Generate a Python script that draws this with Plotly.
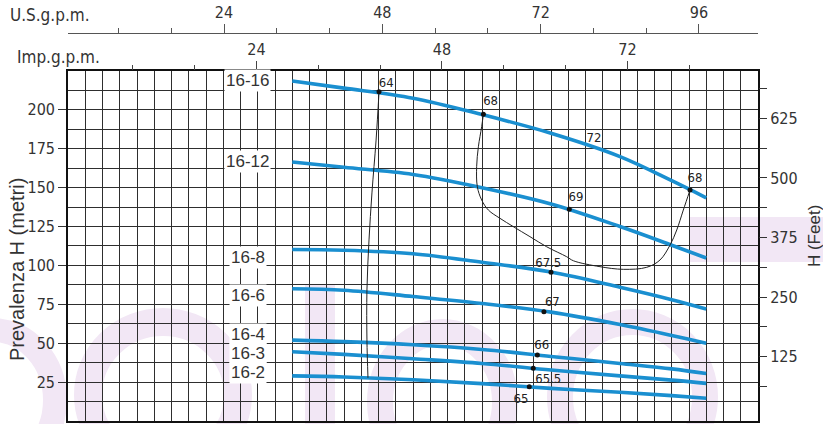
import plotly.graph_objects as go

# ---------------- data ----------------
flow_lpm = [130, 160, 200, 240, 280, 320, 350, 370]
curve_names = ["16-16", "16-12", "16-8", "16-6", "16-4", "16-3", "16-2"]
head_16_16 = [218.6, 214.0, 207.5, 197.0, 185.0, 170.0, 154.5, 143.5]
head_16_12 = [166.5, 163.1, 158.5, 150.0, 139.5, 125.0, 113.0, 104.8]
head_16_8 = [110.2, 109.8, 107.5, 102.0, 95.8, 86.0, 78.0, 72.0]
head_16_6 = [85.0, 84.1, 80.0, 75.5, 70.0, 62.0, 55.0, 50.0]
head_16_4 = [52.0, 51.0, 49.0, 46.0, 41.5, 37.0, 33.5, 30.5]
head_16_3 = [44.5, 42.8, 40.0, 37.0, 32.8, 29.0, 26.3, 24.2]
head_16_2 = [29.0, 28.3, 26.5, 24.0, 21.0, 18.5, 16.3, 14.6]
heads = [head_16_16, head_16_12, head_16_8, head_16_6, head_16_4, head_16_3, head_16_2]

label_flow = 104.3
label_head = [219.2, 166.5, 105.4, 80.4, 55.3, 43.7, 30.9]

# iso-efficiency lines
iso64_q = [180.3, 178.6, 176.2, 174.5, 173.3, 173.3, 173.9]
iso64_h = [211.5, 180.6, 146.6, 116.4, 84.2, 52.1, 27.8]
iso68_q = [240.8, 239.8, 237.9, 236.9, 237.3, 239.8, 243.7, 250.4, 258.2, 267.8, 277.5,
           289.1, 293.0, 308.4, 321.9, 335.5, 343.2, 349.0, 352.9, 356.7, 360.6]
iso68_h = [197.2, 189.2, 176.3, 163.5, 150.6, 142.1, 135.6, 130.3, 124.9, 118.5, 112.0,
           105.6, 103.0, 99.2, 97.5, 98.8, 103.5, 113.1, 122.8, 135.6, 148.5]

dot_q = [180.3, 240.8, 360.6, 290.6, 280.0, 275.9, 272.1, 269.7, 267.4]
dot_h = [211.7, 197.2, 148.5, 136.1, 95.6, 70.3, 42.4, 33.9, 22.0]
eff_labels = ["64", "68", "72", "68", "69", "67.5", "67", "66", "65.5", "65"]
eff_label_q = [184.5, 245.0, 304.9, 363.5, 294.5, 278.4, 280.8, 274.6, 278.4, 262.6]
eff_label_h = [217.0, 205.3, 181.7, 156.0, 143.2, 101.4, 75.7, 48.2, 26.8, 13.5]

imp_ticks = [24, 48, 72]
imp_minor = [8, 16, 32, 40, 56, 64, 80]
us_ticks = [24, 48, 72, 96]
us_minor = [8, 16, 32, 40, 56, 64, 80, 88]
m_ticks = [25, 50, 75, 100, 125, 150, 175, 200]
ft_ticks = [125, 250, 375, 500, 625]
ft_minor = [62.5, 187.5, 312.5, 437.5, 562.5, 687.5]

# ---------------- style ----------------
COND = "DejaVu Sans Condensed, Liberation Sans Narrow, DejaVu Sans, sans-serif"
SANS = "Liberation Sans, Arial, sans-serif"
TXT = "#333333"
GRID = "#2e2e2e"
BLUE = "#1a8fd0"
WATER = "#f2e7f5"

fig = go.Figure()

for name, h in zip(curve_names, heads):
    fig.add_trace(go.Scatter(x=flow_lpm, y=h, mode="lines", name=name,
                             line=dict(color=BLUE, width=3.6, shape="spline"),
                             showlegend=False, hoverinfo="skip"))

fig.add_trace(go.Scatter(x=iso64_q, y=iso64_h, mode="lines",
                         line=dict(color="#222", width=1, shape="spline"),
                         showlegend=False, hoverinfo="skip"))
fig.add_trace(go.Scatter(x=iso68_q, y=iso68_h, mode="lines",
                         line=dict(color="#222", width=1, shape="spline"),
                         showlegend=False, hoverinfo="skip"))
fig.add_trace(go.Scatter(x=dot_q, y=dot_h, mode="markers",
                         marker=dict(color="#111", size=5),
                         showlegend=False, hoverinfo="skip"))
fig.add_trace(go.Scatter(x=eff_label_q, y=eff_label_h, mode="text", text=eff_labels,
                         textfont=dict(family=COND, size=13, color="#222"),
                         showlegend=False, hoverinfo="skip"))

# curve labels with white background
for name, h in zip(curve_names, label_head):
    fig.add_annotation(x=label_flow, y=h, xref="x", yref="y", text=name, showarrow=False,
                       font=dict(family=SANS, size=17, color=TXT), bgcolor="white",
                       borderpad=1)

# dummy traces to activate extra axes
fig.add_trace(go.Scatter(x=[], y=[], xaxis="x2", yaxis="y", showlegend=False))
fig.add_trace(go.Scatter(x=[], y=[], xaxis="x3", yaxis="y", showlegend=False))
fig.add_trace(go.Scatter(x=[], y=[], xaxis="x", yaxis="y2", showlegend=False))


# faint background watermark (decoration, in pixel-derived paper coords)
def px(xp):
    return (xp - 68) / 690


def py(yp):
    return (421 - yp) / 411


wm = [
    ("circle", -70, 330, 55, 470, 24),
    ("circle", 88, 322, 238, 468, 28),
    ("circle", 380, 332, 505, 472, 26),
    ("circle", 560, 322, 705, 472, 26),
]
for kind, x0, y0, x1, y1, w in wm:
    fig.add_shape(type=kind, xref="paper", yref="paper", x0=px(x0), x1=px(x1),
                  y0=py(y0), y1=py(y1), line=dict(color=WATER, width=w),
                  fillcolor="rgba(0,0,0,0)", layer="below")
for x0, y0, x1, y1 in [(305, 285, 335, 424), (690, 217, 823, 262)]:
    fig.add_shape(type="rect", xref="paper", yref="paper", x0=px(x0), x1=px(x1),
                  y0=py(y0), y1=py(y1), line=dict(width=0), fillcolor=WATER,
                  layer="below")

YDOM = [0, 0.8516]

fig.update_layout(
    template="none",
    width=823, height=424,
    margin=dict(l=68, r=65, t=10, b=3, autoexpand=False),
    paper_bgcolor="white", plot_bgcolor="rgba(0,0,0,0)",
    showlegend=False,
    xaxis=dict(range=[0, 400], dtick=10, tick0=0, showgrid=True, gridcolor=GRID,
               gridwidth=1.2, showticklabels=False, ticks="", zeroline=False,
               showline=True, mirror=True, linecolor="#111", linewidth=1.6,
               domain=[0, 1], anchor="y", automargin=False),
    xaxis2=dict(overlaying="x", side="top", anchor="y", range=[-0.39, 88.9],
                tickmode="array", tickvals=imp_ticks, ticks="outside", ticklen=9,
                tickcolor="#444", tickwidth=1.2, showgrid=False, zeroline=False,
                showline=False, tickfont=dict(family=COND, size=16, color=TXT),
                minor=dict(tickmode="array", tickvals=imp_minor, ticks="outside",
                           ticklen=5, tickcolor="#444", tickwidth=1.2, showgrid=False),
                automargin=False),
    xaxis3=dict(overlaying="x", side="top", anchor="free", position=0.944,
                range=[0.35, 104.95], tickmode="array", tickvals=us_ticks,
                ticks="outside", ticklen=9, tickcolor="#555", tickwidth=1.2,
                showgrid=False, zeroline=False, showline=True, linecolor="#555",
                linewidth=1, tickfont=dict(family=COND, size=16, color=TXT),
                minor=dict(tickmode="array", tickvals=us_minor, ticks="outside",
                           ticklen=5, tickcolor="#555", tickwidth=1.2, showgrid=False),
                automargin=False),
    yaxis=dict(range=[0, 225], domain=YDOM, tickmode="array", tickvals=m_ticks,
               showgrid=True, gridcolor=GRID, gridwidth=1.2, zeroline=False,
               ticks="outside", ticklen=8, tickcolor="#333", tickwidth=1.2,
               tickfont=dict(family=COND, size=16, color=TXT),
               showline=True, mirror=True, linecolor="#111", linewidth=1.6,
               minor=dict(dtick=12.5, tick0=0, showgrid=True, gridcolor=GRID,
                          gridwidth=1.2),
               anchor="x", automargin=False),
    yaxis2=dict(overlaying="y", side="right", anchor="x", range=[-9.9, 724.2],
                tickmode="array", tickvals=ft_ticks, ticks="outside", ticklen=8,
                tickcolor="#333", tickwidth=1.2, showgrid=False, zeroline=False,
                showline=False, tickfont=dict(family=COND, size=16, color=TXT),
                minor=dict(tickmode="array", tickvals=ft_minor, ticks="outside",
                           ticklen=8, tickcolor="#333", tickwidth=1.2, showgrid=False),
                automargin=False),
)

# axis unit labels and titles
fig.add_annotation(x=-0.087, y=0.9878, xref="paper", yref="paper", text="U.S.g.p.m.",
                   xanchor="left", yanchor="middle", showarrow=False,
                   font=dict(family=COND, size=17, color=TXT))
fig.add_annotation(x=-0.0768, y=0.8856, xref="paper", yref="paper", text="Imp.g.p.m.",
                   xanchor="left", yanchor="middle", showarrow=False,
                   font=dict(family=COND, size=17, color=TXT))
fig.add_annotation(x=-0.0739, y=0.3674, xref="paper", yref="paper",
                   text="Prevalenza H (metri)", textangle=-90, showarrow=False,
                   xanchor="center", yanchor="middle",
                   font=dict(family=SANS, size=20, color=TXT))
fig.add_annotation(x=1.0812, y=0.4501, xref="paper", yref="paper", text="H (Feet)",
                   textangle=-90, showarrow=False, xanchor="center", yanchor="middle",
                   font=dict(family=SANS, size=17, color=TXT))

fig.write_html("out.html", config={"displayModeBar": False},
               post_script="document.body.style.margin='0px';document.body.style.overflow='hidden';")
